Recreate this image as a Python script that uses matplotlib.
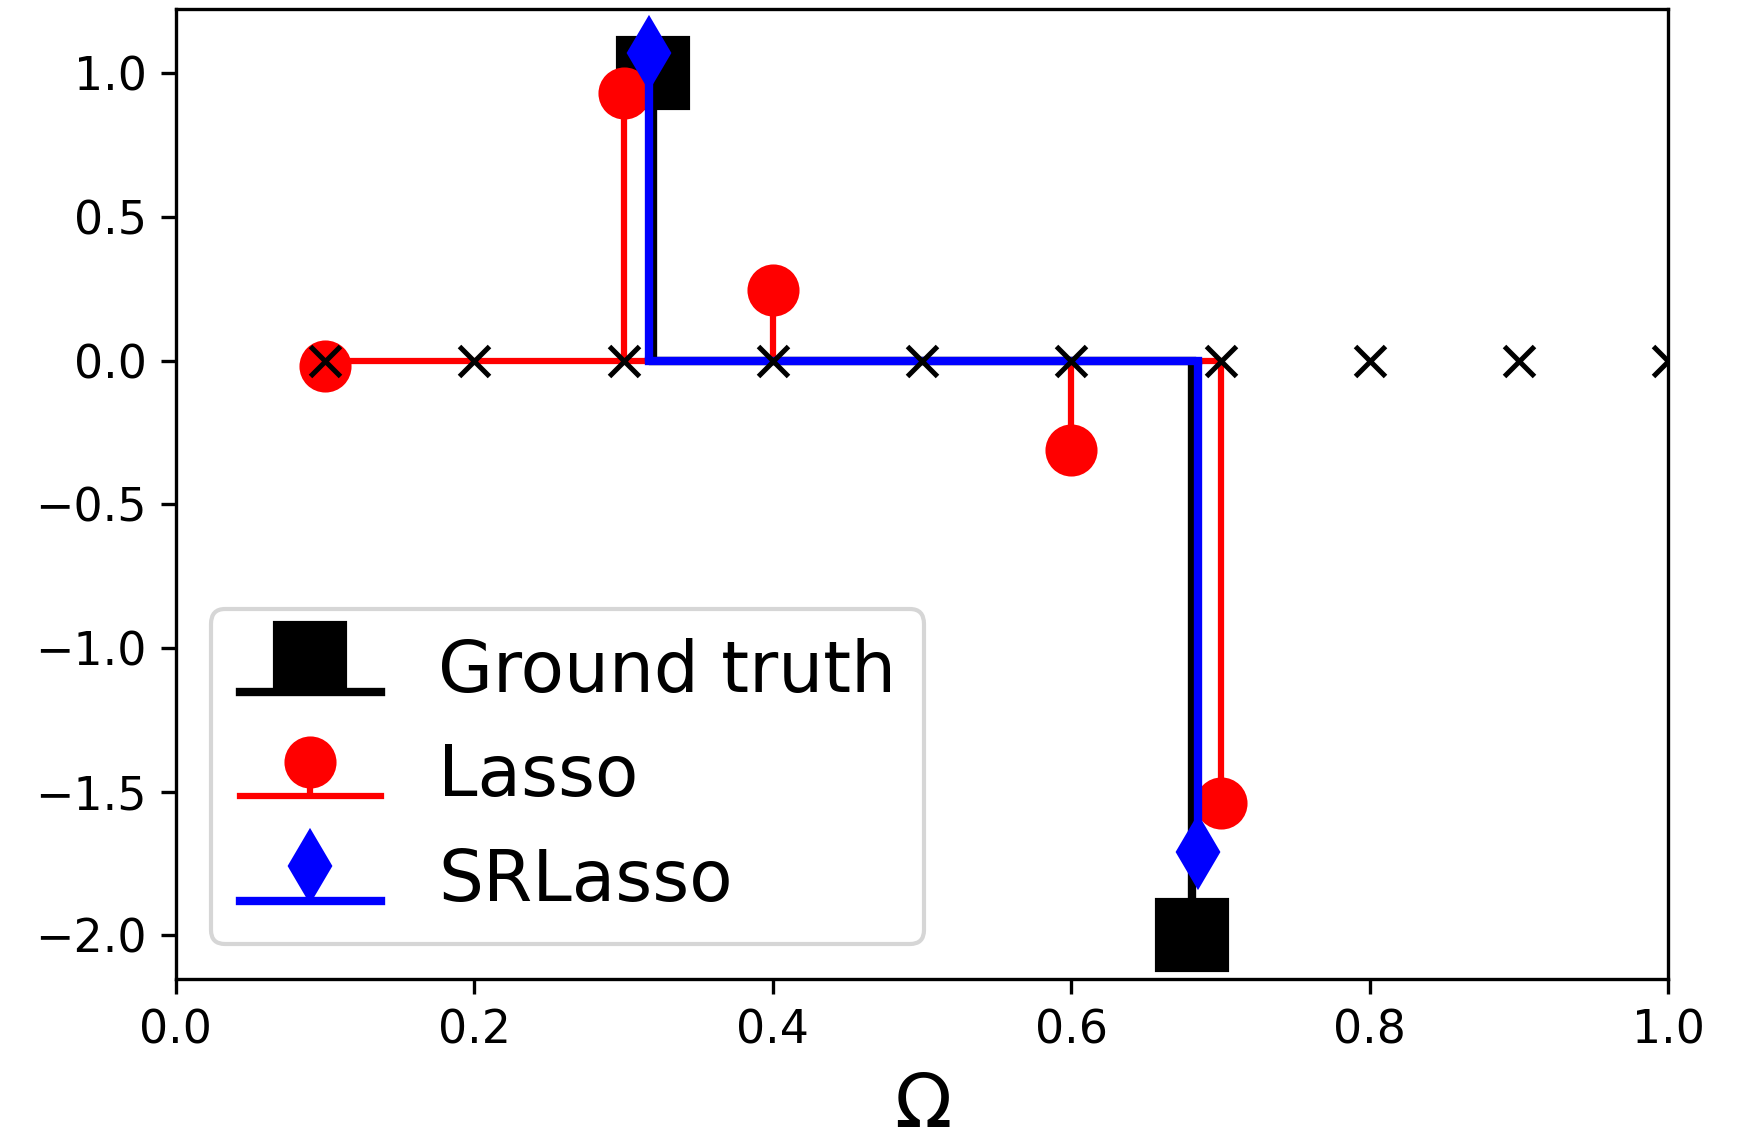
import matplotlib
matplotlib.use('Agg')
import matplotlib.pyplot as plt

# Data
gt_freq = [0.320, 0.681]
gt_amp = [1.0, -2.0]
lasso_freq = [0.1, 0.3, 0.4, 0.6, 0.7]
lasso_amp = [-0.02, 0.93, 0.245, -0.31, -1.54]
sr_freq = [0.317, 0.685]
sr_amp = [1.07, -1.71]
grid_freq = [0.1, 0.2, 0.3, 0.4, 0.5, 0.6, 0.7, 0.8, 0.9, 1.0]
grid_amp = [0.0] * len(grid_freq)
labels = ["Ground truth", "Lasso", "SRLasso"]

dpi = 300
fig = plt.figure(figsize=(1758 / dpi, 1140 / dpi), dpi=dpi)
ax = fig.add_axes([0.100, 0.141, 0.849, 0.851])

gt = ax.stem(gt_freq, gt_amp, linefmt='k-', markerfmt='ks', basefmt='k-', label=labels[0])
gt.markerline.set_markersize(17)
gt.stemlines.set_linewidth(2.0)
gt.baseline.set_linewidth(2.0)

la = ax.stem(lasso_freq, lasso_amp, linefmt='r-', markerfmt='ro', basefmt='r-', label=labels[1])
la.markerline.set_markersize(11.5)
la.stemlines.set_linewidth(1.5)
la.baseline.set_linewidth(1.5)

sr = ax.stem(sr_freq, sr_amp, linefmt='b-', markerfmt='bd', basefmt='b-', label=labels[2])
sr.markerline.set_markersize(11.5)
sr.stemlines.set_linewidth(2.0)
sr.baseline.set_linewidth(2.0)

ax.plot(grid_freq, grid_amp, 'kx', markersize=7, markeredgewidth=1.2, zorder=5)

ax.set_xlim(0.0, 1.0)
ax.set_ylim(-2.1535, 1.2235)
ax.set_xticks([0.0, 0.2, 0.4, 0.6, 0.8, 1.0])
ax.set_yticks([-2.0, -1.5, -1.0, -0.5, 0.0, 0.5, 1.0])
ax.tick_params(labelsize=11)
ax.set_xlabel(r'$\Omega$', fontsize=18)
ax.legend(loc='lower left', fontsize=17)

fig.savefig('out.png', dpi=dpi)
